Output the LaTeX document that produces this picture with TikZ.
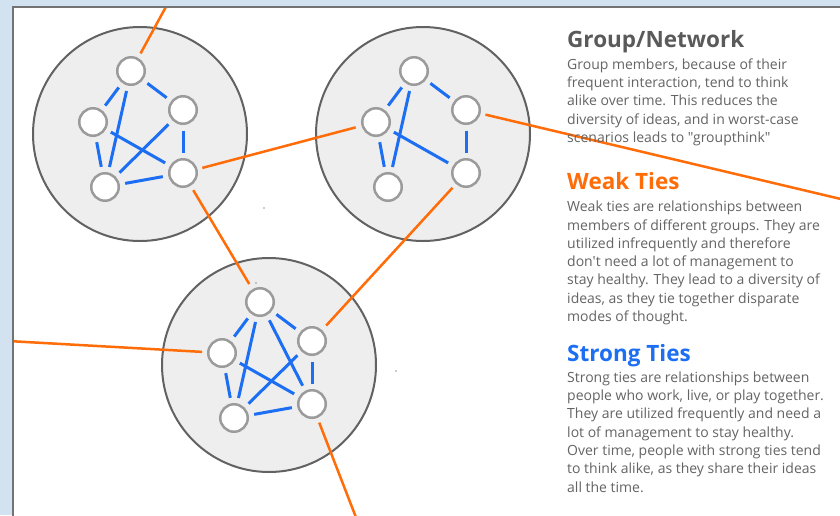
\documentclass[tikz,border=0pt]{standalone}
\usepackage{fontspec}
\setmainfont{Open Sans}[Ligatures=TeXOff]
\definecolor{bgblue}{RGB}{210,226,240}
\definecolor{frameline}{RGB}{115,115,115}
\definecolor{grpfill}{RGB}{238,238,238}
\definecolor{grpline}{RGB}{98,98,98}
\definecolor{memline}{RGB}{155,155,155}
\definecolor{strongblue}{RGB}{28,110,242}
\definecolor{weakorange}{RGB}{255,108,8}
\definecolor{headgray}{RGB}{90,90,90}
\definecolor{bodygray}{RGB}{100,100,100}
\definecolor{speck}{RGB}{150,150,150}
\begin{document}
\begin{tikzpicture}[x=1pt,y=-1pt,
  grp/.style={circle,draw=grpline,fill=grpfill,line width=2pt,minimum size=214pt,inner sep=0pt},
  member/.style={circle,draw=memline,fill=white,line width=2.5pt,minimum size=27.5pt,inner sep=0pt},
  strongtie/.style={draw=strongblue,line width=3pt,shorten <=5.5pt,shorten >=5.5pt},
  weaktie/.style={draw=weakorange,line width=2.5pt,shorten <=5pt,shorten >=6pt},
  weakout/.style={draw=weakorange,line width=2.5pt,shorten <=5pt},
  headtext/.style={anchor=base west,inner sep=0pt,font=\fontsize{22.5}{25}\selectfont\bfseries},
  bodytext/.style={anchor=base west,inner sep=0pt,text=bodygray,font=\fontsize{14}{18.3}\selectfont}]
\useasboundingbox (0,0) rectangle (840,515);
\fill[bgblue] (0,0) rectangle (840,515);
\fill[white] (12.5,6.5) rectangle (845,520);

% groups
\node[grp] (g1) at (140,134) {};
\node[grp] (g2) at (423,134) {};
\node[grp] (g3) at (269,365) {};

% members
\foreach \g/\cx/\cy in {a/140/134, b/423/134, c/269/365} {
  \node[member] (\g t) at (\cx-9,\cy-63) {};
  \node[member] (\g r) at (\cx+43,\cy-24) {};
  \node[member] (\g l) at (\cx-47,\cy-12) {};
  \node[member] (\g bl) at (\cx-35,\cy+53) {};
  \node[member] (\g br) at (\cx+43,\cy+39) {};
}

% off-panel ends
\coordinate (outtop) at (168,3);
\coordinate (outright) at (845,200);
\coordinate (outleft) at (8,341);
\coordinate (outbottom) at (357,520);

% weak ties
\begin{scope}
\clip (13.5,7.5) rectangle (845,520);
\draw[weakout] (at) -- (outtop);
\draw[weaktie] (abr) -- (bl);
\draw[weaktie] (abr) -- (ct);
\draw[weakout] (br) -- (outright);
\draw[weaktie] (bbr) -- (cr);
\draw[weakout] (cl) -- (outleft);
\draw[weakout] (cbr) -- (outbottom);
\end{scope}

% panel frame
\draw[frameline,line width=2pt] (12.5,520) -- (12.5,6.5) -- (845,6.5);

% strong ties group 1
\draw[strongtie] (at) -- (al);
\draw[strongtie] (at) -- (ar);
\draw[strongtie] (at) -- (abl);
\draw[strongtie] (al) -- (abl);
\draw[strongtie] (al) -- (abr);
\draw[strongtie] (ar) -- (abl);
\draw[strongtie] (ar) -- (abr);
\draw[strongtie] (abl) -- (abr);
% group 2
\draw[strongtie] (bt) -- (bl);
\draw[strongtie] (bt) -- (br);
\draw[strongtie] (bt) -- (bbl);
\draw[strongtie] (bl) -- (bbl);
\draw[strongtie] (bl) -- (bbr);
\draw[strongtie] (br) -- (bbr);
% group 3
\draw[strongtie] (ct) -- (cl);
\draw[strongtie] (ct) -- (cr);
\draw[strongtie] (ct) -- (cbl);
\draw[strongtie] (ct) -- (cbr);
\draw[strongtie] (cl) -- (cbl);
\draw[strongtie] (cl) -- (cbr);
\draw[strongtie] (cr) -- (cbl);
\draw[strongtie] (cr) -- (cbr);
\draw[strongtie] (cbl) -- (cbr);

% specks
\fill[speck] (264,208) circle (0.9pt);
\fill[speck] (396,371) circle (0.9pt);
\fill[speck] (256,283) circle (0.9pt);

% text
\node[headtext,text=headgray] (h1) at (567,47) {Group/Network};
\node[bodytext] (b1) at (567,69.3) {\parbox[t]{272pt}{\raggedright
Group members, because of their\\
frequent interaction, tend to think\\
alike over time. This reduces the\\
diversity of ideas, and in worst-case\\
scenarios leads to "groupthink"}};

\node[headtext,text=weakorange] (h2) at (567,189) {Weak Ties};
\node[bodytext] (b2) at (567,211.7) {\parbox[t]{272pt}{\raggedright
Weak ties are relationships between\\
members of different groups. They are\\
utilized infrequently and therefore\\
don't need a lot of management to\\
stay healthy. They lead to a diversity of\\
ideas, as they tie together disparate\\
modes of thought.}};

\node[headtext,text=strongblue] (h3) at (567,361) {Strong Ties};
\node[bodytext] (b3) at (567,382.3) {\parbox[t]{272pt}{\raggedright
Strong ties are relationships between\\
people who work, live, or play together.\\
They are utilized frequently and need a\\
lot of management to stay healthy.\\
Over time, people with strong ties tend\\
to think alike, as they share their ideas\\
all the time.}};
\end{tikzpicture}
\end{document}
